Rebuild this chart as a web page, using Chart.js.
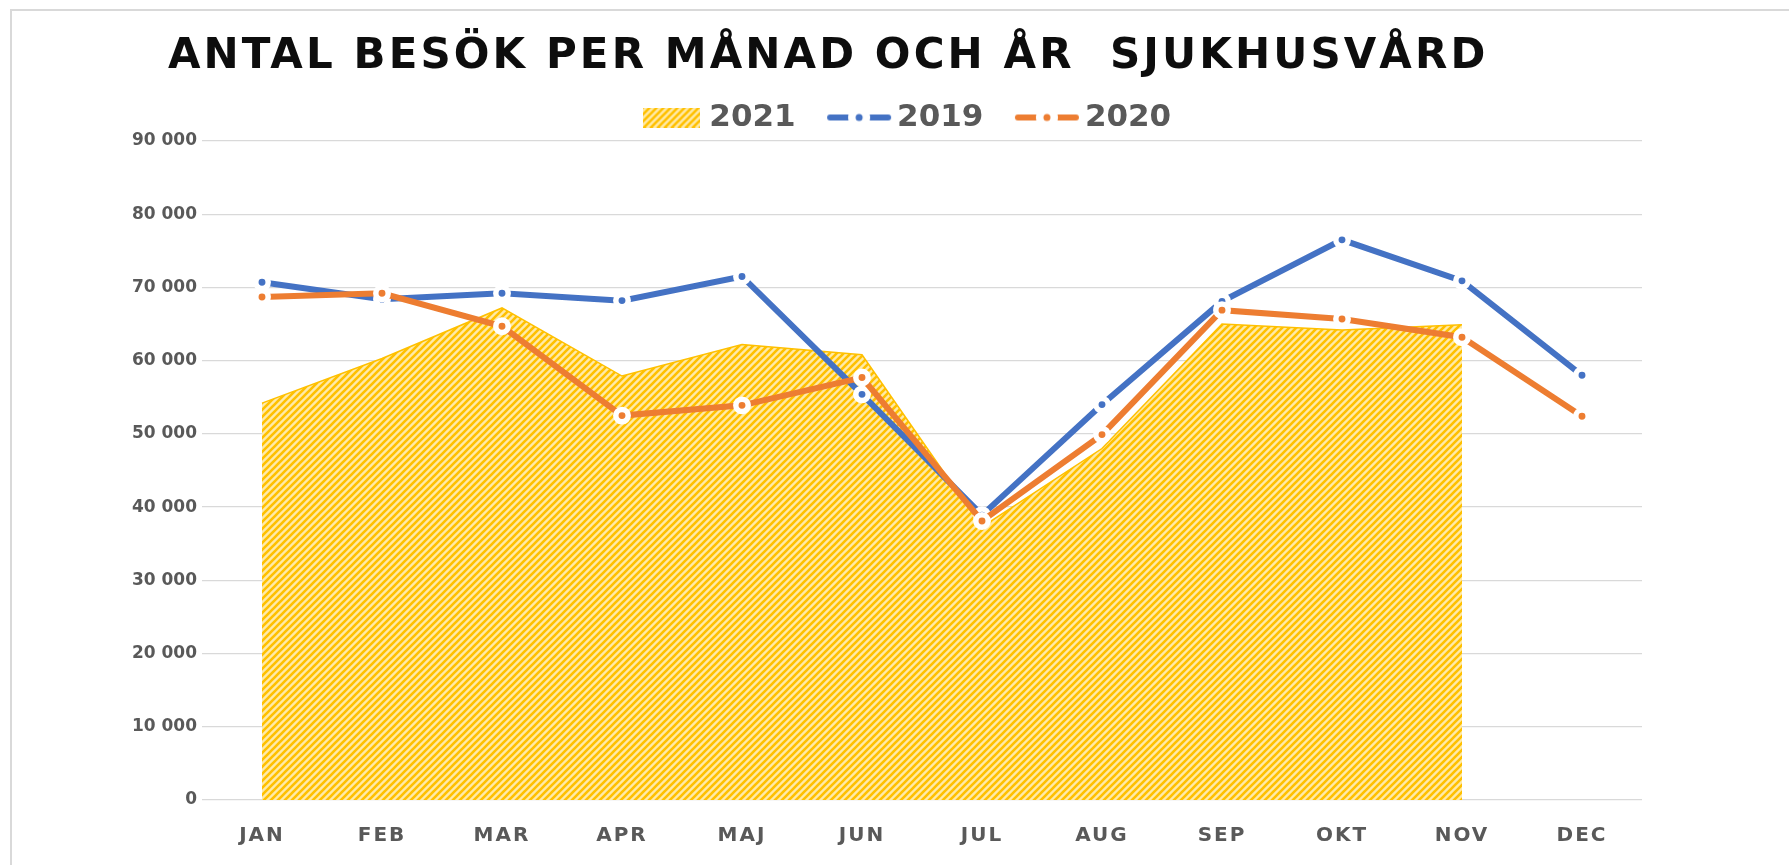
<!DOCTYPE html>
<html lang="sv">
<head>
<meta charset="utf-8">
<title>Antal besök per månad och år sjukhusvård</title>
<script src="https://cdn.jsdelivr.net/npm/chart.js@4.4.1/dist/chart.umd.min.js"></script>
<style>
  html, body { margin: 0; padding: 0; background: #fff; }
  #wrap { position: relative; width: 1789px; height: 865px; overflow: hidden; }
  #frame { position: absolute; left: 10px; top: 9px; right: -5px; bottom: -5px;
           border-left: 2px solid #d9d9d9; border-top: 2px solid #d9d9d9; }
  #chart { position: absolute; left: 0; top: 0; }
</style>
</head>
<body>
<div id="wrap">
  <div id="frame"></div>
  <canvas id="chart" width="1789" height="865"></canvas>
</div>
<script>
// data
const titleText = "ANTAL BESÖK PER MÅNAD OCH ÅR  SJUKHUSVÅRD";
const months = ["JAN", "FEB", "MAR", "APR", "MAJ", "JUN", "JUL", "AUG", "SEP", "OKT", "NOV", "DEC"];
const seriesNames = ["2021", "2019", "2020"];
const visits2021 = [54200, 60300, 67200, 57900, 62200, 60800, 37300, 48000, 65000, 64200, 64900, null];
const visits2019 = [70700, 68400, 69200, 68200, 71500, 55400, 38900, 54000, 68100, 76500, 70900, 58000];
const visits2020 = [68700, 69200, 64700, 52500, 53900, 57700, 38100, 49900, 66900, 65700, 63200, 52400];
const yTicks = { min: 0, max: 90000, step: 10000 };

const BLUE = "#4472C4";
const ORANGE = "#ED7D31";
const YELLOW = "#FFC000";
const GREY = "#595959";
const FONT = "'DejaVu Sans', 'Open Sans', sans-serif";

// hatch tile for the 2021 area (wide upward diagonal)
function makeHatchTile() {
  const s = 7;
  const t = document.createElement("canvas");
  t.width = s; t.height = s;
  const c = t.getContext("2d");
  c.fillStyle = "#FFEAA8";
  c.fillRect(0, 0, s, s);
  c.strokeStyle = YELLOW;
  c.lineWidth = 2.6;
  c.beginPath();
  for (let k = -1; k <= 1; k++) {
    c.moveTo(-1, s + k * s + 1);
    c.lineTo(s + 1, k * s - 1);
  }
  c.stroke();
  return t;
}
const hatchTile = makeHatchTile();
const chartCtx = document.getElementById("chart").getContext("2d");
const hatch = chartCtx.createPattern(hatchTile, "repeat");

// legend symbols
function areaSymbol() {
  const cv = document.createElement("canvas");
  cv.width = 57; cv.height = 20;
  const c = cv.getContext("2d");
  c.fillStyle = c.createPattern(hatchTile, "repeat");
  c.fillRect(0, 0, 57, 20);
  return cv;
}
function lineSymbol(color) {
  const cv = document.createElement("canvas");
  cv.width = 66; cv.height = 22;
  const c = cv.getContext("2d");
  c.strokeStyle = color;
  c.lineWidth = 6;
  c.lineCap = "round";
  c.beginPath();
  c.moveTo(4, 11);
  c.lineTo(62, 11);
  c.stroke();
  c.fillStyle = "#fff";
  c.beginPath(); c.arc(33, 11, 11, 0, Math.PI * 2); c.fill();
  c.fillStyle = color;
  c.beginPath(); c.arc(33, 11, 3.5, 0, Math.PI * 2); c.fill();
  return cv;
}
const legendSymbols = [areaSymbol(), lineSymbol(BLUE), lineSymbol(ORANGE)];

function fmtThousands(v) {
  return String(v).replace(/\B(?=(\d{3})+(?!\d))/g, " ");
}

// title drawn left-aligned like the original
const titlePlugin = {
  id: "leftTitle",
  afterDraw(chart) {
    const ctx = chart.ctx;
    ctx.save();
    ctx.font = "bold 42px " + FONT;
    ctx.letterSpacing = "3.1px";
    ctx.fillStyle = "#0d0d0d";
    ctx.textBaseline = "middle";
    ctx.textAlign = "left";
    ctx.fillText(titleText, 168, 57);
    ctx.restore();
  }
};

// legend sits close to the plot; spaced-out axis labels
function spaceLabels(scale, spacing) {
  if (scale._spaced) return;
  const draw = scale.drawLabels;
  scale.drawLabels = function (area) {
    this.ctx.save();
    this.ctx.letterSpacing = spacing;
    draw.call(this, area);
    this.ctx.restore();
  };
  scale._spaced = true;
}
const layoutTweaks = {
  id: "layoutTweaks",
  beforeLayout(chart) {
    const lg = chart.legend;
    if (!lg || lg._patched) return;
    const fit = lg.fit;
    lg.fit = function () {
      fit.call(this);
      this.height -= 2;
    };
    const draw = lg.draw;
    lg.draw = function () {
      this.ctx.save();
      this.ctx.translate(-12, 0);
      draw.call(this);
      this.ctx.restore();
    };
    lg._patched = true;
  },
  afterLayout(chart) {
    spaceLabels(chart.scales.x, "2px");
  }
};

new Chart(chartCtx, {
  type: "line",
  data: {
    labels: months,
    datasets: [
      {
        label: seriesNames[0],
        data: visits2021,
        fill: "origin",
        backgroundColor: hatch,
        borderColor: YELLOW,
        borderWidth: 1.5,
        pointRadius: 0,
        tension: 0,
        order: 3
      },
      {
        label: seriesNames[1],
        data: visits2019,
        fill: false,
        borderColor: BLUE,
        borderWidth: 6,
        pointRadius: 6.2,
        pointBorderWidth: 5.5,
        pointBackgroundColor: BLUE,
        pointBorderColor: "#fff",
        tension: 0,
        order: 2
      },
      {
        label: seriesNames[2],
        data: visits2020,
        fill: false,
        borderColor: ORANGE,
        borderWidth: 6,
        pointRadius: 6.2,
        pointBorderWidth: 5.5,
        pointBackgroundColor: ORANGE,
        pointBorderColor: "#fff",
        tension: 0,
        order: 1
      }
    ]
  },
  options: {
    responsive: false,
    animation: false,
    layout: { padding: { top: 61, right: 147, bottom: 0, left: 0 } },
    plugins: {
      title: { display: false },
      tooltip: { enabled: false },
      legend: {
        position: "top",
        fullSize: false,
        labels: {
          usePointStyle: true,
          pointStyleWidth: 45,
          padding: 41,
          color: GREY,
          font: { family: FONT, size: 31, weight: "bold" },
          generateLabels: function (chart) {
            return chart.data.datasets.map((ds, i) => ({
              text: ds.label,
              datasetIndex: i,
              pointStyle: legendSymbols[i],
              fillStyle: "#fff",
              strokeStyle: "#fff",
              lineWidth: 0,
              hidden: false,
              fontColor: GREY
            }));
          }
        }
      }
    },
    scales: {
      x: {
        offset: true,
        grid: { display: false, drawTicks: false },
        border: { display: false },
        ticks: {
          color: GREY,
          padding: 24,
          font: { family: FONT, size: 20, weight: "bold" }
        },
        afterFit: (scale) => { scale.height = 65; }
      },
      y: {
        min: yTicks.min,
        max: yTicks.max,
        grid: { color: "#d9d9d9", lineWidth: 1.3, drawTicks: false },
        border: { display: false },
        ticks: {
          stepSize: yTicks.step,
          color: GREY,
          padding: 5,
          font: { family: FONT, size: 17, weight: "bold" },
          callback: (v) => fmtThousands(v)
        },
        afterFit: (scale) => { scale.width = 202; }
      }
    }
  },
  plugins: [titlePlugin, layoutTweaks]
});
</script>
</body>
</html>
